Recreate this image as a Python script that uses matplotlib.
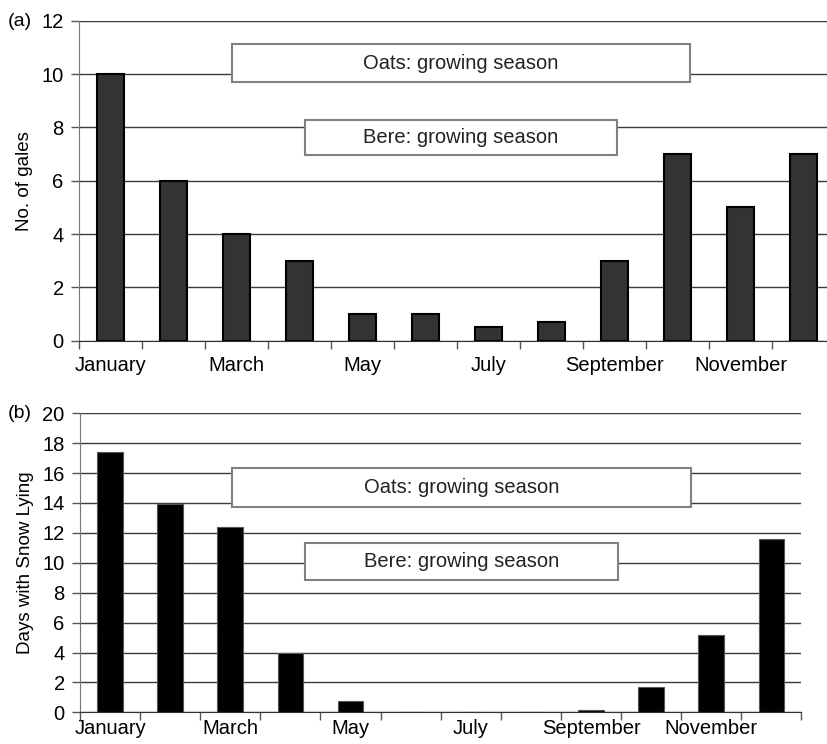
import numpy as np
import matplotlib
matplotlib.use("Agg")
import matplotlib.pyplot as plt
from matplotlib.patches import Rectangle

plt.rcParams['font.family'] = ['Liberation Sans', 'DejaVu Sans']

months = ["January", "February", "March", "April", "May", "June", "July",
          "August", "September", "October", "November", "December"]
gales = [10, 6, 4, 3, 1, 1, 0.5, 0.7, 3, 7, 5, 7]
snow_days = [17.4, 13.9, 12.4, 4.0, 0.75, 0, 0, 0, 0.15, 1.67, 5.17, 11.57]

# season boxes in data coords: (x0, x1, y0, y1)
oats_a = (2.43, 9.70, 9.7, 11.12)
bere_a = (3.59, 8.54, 6.96, 8.27)
oats_b = (2.53, 10.16, 13.75, 16.36)
bere_b = (3.75, 8.94, 8.85, 11.3)

W, H = 828, 744
fig = plt.figure(figsize=(W / 100, H / 100), dpi=100)

def make_ax(left, top, right, bottom):
    return fig.add_axes([left / W, 1 - bottom / H, (right - left) / W, (bottom - top) / H])

def style(ax, ymax, ystep, ylabel, xpad):
    ax.set_xlim(0, 12)
    ax.set_ylim(0, ymax)
    ax.set_yticks(np.arange(0, ymax + 0.01, ystep))
    ax.set_xticks(np.arange(0.5, 12, 2))
    ax.set_xticklabels(months[::2])
    ax.set_xticks(np.arange(0, 12.01, 1), minor=True)
    ax.tick_params(axis='x', which='major', length=0, labelsize=14.5, pad=xpad)
    ax.tick_params(axis='x', which='minor', length=6, width=1, color='#555555', direction='out')
    ax.tick_params(axis='y', length=6, width=1, color='#555555', labelsize=14.5, pad=5)
    for s in ['top', 'right']:
        ax.spines[s].set_visible(False)
    ax.spines['left'].set_color('#777777')
    ax.spines['bottom'].set_color('#333333')
    ax.yaxis.grid(True, color='#3a3a3a', linewidth=1)
    ax.set_axisbelow(True)
    ax.set_ylabel(ylabel, fontsize=13.5, labelpad=6)

def add_box(ax, box, label):
    x0, x1, y0, y1 = box
    ax.add_patch(Rectangle((x0, y0), x1 - x0, y1 - y0, facecolor='white',
                           edgecolor='#808080', linewidth=1.5, zorder=3))
    ax.text((x0 + x1) / 2, (y0 + y1) / 2, label, ha='center', va='center',
            fontsize=14.5, color='#222222', zorder=4)

x = np.arange(12) + 0.5

ax1 = make_ax(79, 20.7, 835, 340.7)
style(ax1, 12, 2, "No. of gales", 11)
ax1.bar(x, gales, width=0.42, color='#333333', edgecolor='black', linewidth=1.5, zorder=2)
add_box(ax1, oats_a, "Oats: growing season")
add_box(ax1, bere_a, "Bere: growing season")

ax2 = make_ax(80, 413.3, 801.5, 712.3)
style(ax2, 20, 2, "Days with Snow Lying", 5)
ax2.bar(x, snow_days, width=0.43, color='black', edgecolor='#555555', linewidth=0.8, zorder=2)
add_box(ax2, oats_b, "Oats: growing season")
add_box(ax2, bere_b, "Bere: growing season")

fig.text(8 / W, 1 - 21 / H, "(a)", fontsize=14, ha='left', va='center')
fig.text(8 / W, 1 - 414 / H, "(b)", fontsize=14, ha='left', va='center')

fig.savefig("out.png", dpi=100)
